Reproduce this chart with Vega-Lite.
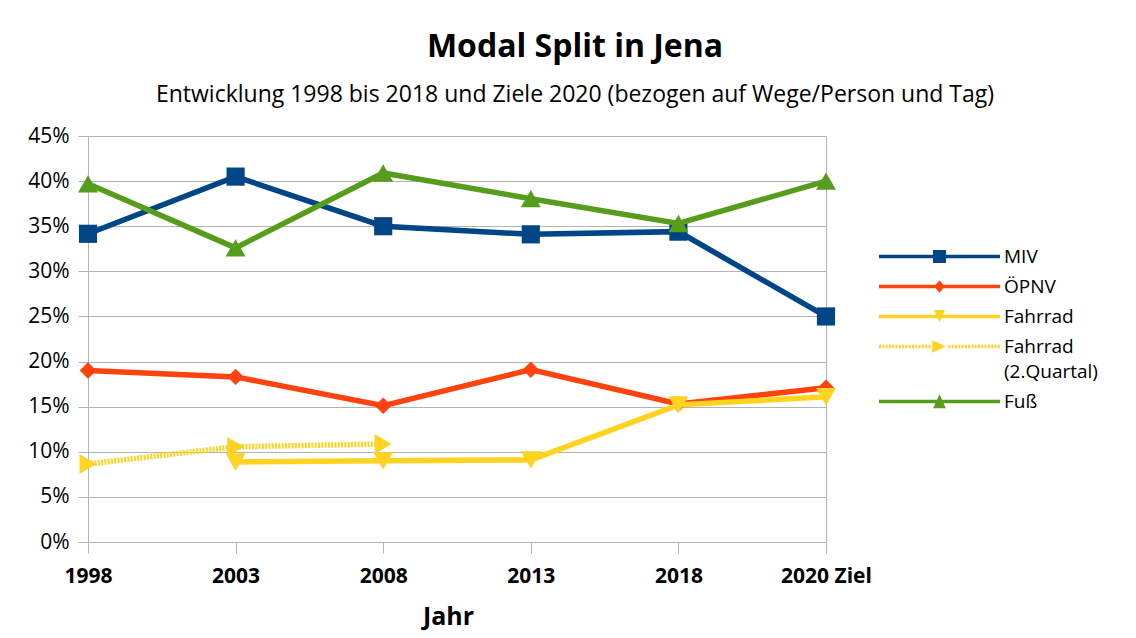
{
  "$schema": "https://vega.github.io/schema/vega-lite/v6.json",
  "width": 738,
  "height": 406,
  "autosize": {"type": "none"},
  "padding": {"left": 88, "top": 136, "right": 310, "bottom": 96},
  "background": "white",
  "config": {
    "font": "Open Sans",
    "view": {"stroke": "#b3b3b3", "strokeWidth": 1},
    "axis": {"labelColor": "#000000", "titleColor": "#000000", "labelFont": "Open Sans", "titleFont": "Open Sans"}
  },
  "title": {
    "text": "Modal Split in Jena",
    "subtitle": "Entwicklung 1998 bis 2018  und Ziele 2020 (bezogen auf Wege/Person und Tag)",
    "anchor": "middle",
    "frame": "group",
    "dx": 118,
    "offset": 17,
    "fontSize": 32,
    "fontWeight": "bold",
    "color": "#000000",
    "subtitleFontSize": 23,
    "subtitleColor": "#000000",
    "subtitlePadding": 20,
    "font": "Open Sans",
    "subtitleFont": "Open Sans"
  },
  "data": {
    "values": [
      {"year": "1998", "series": "MIV", "value": 0.3416},
      {"year": "2003", "series": "MIV", "value": 0.405},
      {"year": "2008", "series": "MIV", "value": 0.350},
      {"year": "2013", "series": "MIV", "value": 0.341},
      {"year": "2018", "series": "MIV", "value": 0.344},
      {"year": "2020 Ziel", "series": "MIV", "value": 0.250},
      {"year": "1998", "series": "ÖPNV", "value": 0.190},
      {"year": "2003", "series": "ÖPNV", "value": 0.183},
      {"year": "2008", "series": "ÖPNV", "value": 0.151},
      {"year": "2013", "series": "ÖPNV", "value": 0.191},
      {"year": "2018", "series": "ÖPNV", "value": 0.153},
      {"year": "2020 Ziel", "series": "ÖPNV", "value": 0.171},
      {"year": "2003", "series": "Fahrrad", "value": 0.0887},
      {"year": "2008", "series": "Fahrrad", "value": 0.090},
      {"year": "2013", "series": "Fahrrad", "value": 0.091},
      {"year": "2018", "series": "Fahrrad", "value": 0.152},
      {"year": "2020 Ziel", "series": "Fahrrad", "value": 0.161},
      {"year": "1998", "series": "Fahrrad (2.Quartal)", "value": 0.0865},
      {"year": "2003", "series": "Fahrrad (2.Quartal)", "value": 0.1056},
      {"year": "2008", "series": "Fahrrad (2.Quartal)", "value": 0.1086},
      {"year": "1998", "series": "Fuß", "value": 0.397},
      {"year": "2003", "series": "Fuß", "value": 0.326},
      {"year": "2008", "series": "Fuß", "value": 0.409},
      {"year": "2013", "series": "Fuß", "value": 0.3805},
      {"year": "2018", "series": "Fuß", "value": 0.353},
      {"year": "2020 Ziel", "series": "Fuß", "value": 0.400}
    ]
  },
  "encoding": {
    "x": {
      "field": "year",
      "type": "ordinal",
      "scale": {"type": "point", "padding": 0, "domain": ["1998", "2003", "2008", "2013", "2018", "2020 Ziel"]},
      "axis": {
        "title": "Jahr",
        "titleFontSize": 25,
        "titleFontWeight": "bold",
        "titlePadding": 18,
        "titleX": 360,
        "labelAngle": 0,
        "labelFontSize": 21,
        "labelFontWeight": "bold",
        "labelPadding": 12,
        "tickSize": 11,
        "tickColor": "#b3b3b3",
        "domainColor": "#b3b3b3",
        "grid": false
      }
    },
    "y": {
      "field": "value",
      "type": "quantitative",
      "scale": {"domain": [0, 0.45], "nice": false, "zero": true},
      "axis": {
        "title": null,
        "values": [0, 0.05, 0.1, 0.15, 0.2, 0.25, 0.3, 0.35, 0.4, 0.45],
        "format": ".0%",
        "labelFontSize": 21,
        "labelPadding": 9,
        "tickSize": 10,
        "tickColor": "#b3b3b3",
        "domain": false,
        "grid": true,
        "gridColor": "#b3b3b3",
        "gridOpacity": 1
      }
    }
  },
  "layer": [
    {
      "transform": [{"filter": "datum.series == 'MIV'"}],
      "layer": [
        {"mark": {"type": "line", "color": "#004586", "strokeWidth": 5.5}},
        {"mark": {"type": "point", "shape": "square", "filled": true, "color": "#004586", "size": 330, "opacity": 1}}
      ]
    },
    {
      "transform": [{"filter": "datum.series == 'ÖPNV'"}],
      "layer": [
        {"mark": {"type": "line", "color": "#ff420e", "strokeWidth": 5.5}},
        {"mark": {"type": "point", "shape": "diamond", "filled": true, "color": "#ff420e", "size": 270, "opacity": 1}}
      ]
    },
    {
      "transform": [{"filter": "datum.series == 'Fahrrad'"}],
      "layer": [
        {"mark": {"type": "line", "color": "#ffd320", "strokeWidth": 5.5}},
        {"mark": {"type": "point", "shape": "triangle-down", "filled": true, "color": "#ffd320", "size": 400, "opacity": 1}}
      ]
    },
    {
      "transform": [{"filter": "datum.series == 'Fahrrad (2.Quartal)'"}],
      "layer": [
        {"mark": {"type": "line", "color": "#ffd320", "strokeWidth": 5.5, "strokeDash": [2, 1.3]}},
        {"mark": {"type": "point", "shape": "triangle-right", "filled": true, "color": "#ffd320", "size": 380, "opacity": 1}}
      ]
    },
    {
      "transform": [{"filter": "datum.series == 'Fuß'"}],
      "layer": [
        {"mark": {"type": "line", "color": "#579d1c", "strokeWidth": 5.5}},
        {"mark": {"type": "point", "shape": "triangle-up", "filled": true, "color": "#579d1c", "size": 400, "opacity": 1}}
      ]
    },
    {
      "transform": [{"filter": "false"}],
      "mark": {"type": "point", "filled": true, "opacity": 1, "size": 100},
      "encoding": {
        "color": {
          "field": "series",
          "type": "nominal",
          "scale": {
            "domain": ["MIV", "ÖPNV", "Fahrrad", "Fahrrad (2.Quartal)", "Fuß"],
            "range": ["#004586", "#ff420e", "#ffd320", "#ffd320", "#579d1c"]
          },
          "legend": {
            "title": null,
            "orient": "none",
            "legendX": 842,
            "legendY": 111,
            "padding": 0,
            "symbolSize": 100,
            "symbolStrokeWidth": 0,
            "symbolOpacity": 1,
            "labelFont": "Open Sans",
            "labelFontSize": 19,
            "labelColor": "#000000",
            "labelOffset": 55,
            "labelLimit": 300,
            "rowPadding": 10,
            "labelExpr": "datum.label == 'Fahrrad (2.Quartal)' ? ['Fahrrad', '(2.Quartal)'] : datum.label",
            "encode": {"labels": {"update": {"lineHeight": {"value": 25}}}}
          }
        },
        "shape": {
          "field": "series",
          "type": "nominal",
          "scale": {
            "domain": ["MIV", "ÖPNV", "Fahrrad", "Fahrrad (2.Quartal)", "Fuß"],
            "range": [
              "M-12.1,-0.35H12.1V0.35H-12.1ZM-1.3,-1.3H1.3V1.3H-1.3Z",
              "M-12.1,-0.35H12.1V0.35H-12.1ZM0,-1.27L1.07,0L0,1.27L-1.07,0Z",
              "M-12.1,-0.35H12.1V0.35H-12.1ZM-1.1,-1.3L1.1,-1.3L0,1.15Z",
              "M-12.1,-0.35h0.4v0.7h-0.4ZM-11.44,-0.35h0.4v0.7h-0.4ZM-10.78,-0.35h0.4v0.7h-0.4ZM-10.12,-0.35h0.4v0.7h-0.4ZM-9.46,-0.35h0.4v0.7h-0.4ZM-8.8,-0.35h0.4v0.7h-0.4ZM-8.14,-0.35h0.4v0.7h-0.4ZM-7.48,-0.35h0.4v0.7h-0.4ZM-6.82,-0.35h0.4v0.7h-0.4ZM-6.16,-0.35h0.4v0.7h-0.4ZM-5.5,-0.35h0.4v0.7h-0.4ZM-4.84,-0.35h0.4v0.7h-0.4ZM-4.18,-0.35h0.4v0.7h-0.4ZM-3.52,-0.35h0.4v0.7h-0.4ZM-2.86,-0.35h0.4v0.7h-0.4ZM-2.2,-0.35h0.4v0.7h-0.4ZM1.76,-0.35h0.4v0.7h-0.4ZM2.42,-0.35h0.4v0.7h-0.4ZM3.08,-0.35h0.4v0.7h-0.4ZM3.74,-0.35h0.4v0.7h-0.4ZM4.4,-0.35h0.4v0.7h-0.4ZM5.06,-0.35h0.4v0.7h-0.4ZM5.72,-0.35h0.4v0.7h-0.4ZM6.38,-0.35h0.4v0.7h-0.4ZM7.04,-0.35h0.4v0.7h-0.4ZM7.7,-0.35h0.4v0.7h-0.4ZM8.36,-0.35h0.4v0.7h-0.4ZM9.02,-0.35h0.4v0.7h-0.4ZM9.68,-0.35h0.4v0.7h-0.4ZM10.34,-0.35h0.4v0.7h-0.4ZM11.0,-0.35h0.4v0.7h-0.4ZM11.66,-0.35h0.4v0.7h-0.4ZM-1.44,-1.24L1.24,0L-1.44,1.24Z",
              "M-12.1,-0.35H12.1V0.35H-12.1ZM0,-1.46L1.27,1.34L-1.27,1.34Z"
            ]
          },
          "legend": {
            "title": null,
            "orient": "none",
            "legendX": 842,
            "legendY": 111,
            "padding": 0,
            "symbolSize": 100,
            "symbolStrokeWidth": 0,
            "symbolOpacity": 1,
            "labelFont": "Open Sans",
            "labelFontSize": 19,
            "labelColor": "#000000",
            "labelOffset": 55,
            "labelLimit": 300,
            "rowPadding": 10,
            "labelExpr": "datum.label == 'Fahrrad (2.Quartal)' ? ['Fahrrad', '(2.Quartal)'] : datum.label",
            "encode": {"labels": {"update": {"lineHeight": {"value": 25}}}}
          }
        }
      }
    }
  ]
}
